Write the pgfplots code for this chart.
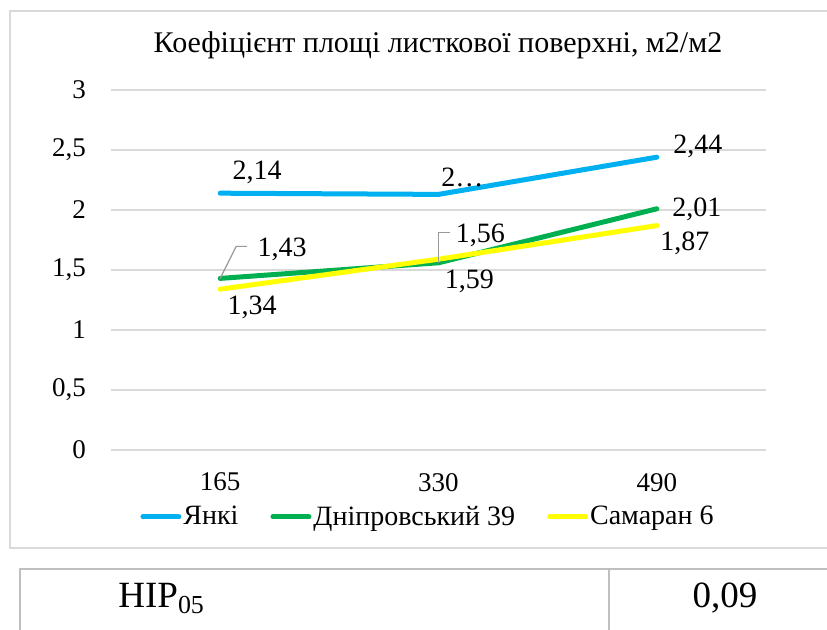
\documentclass[border=0pt]{standalone}
\usepackage{pgfplots}
\pgfplotsset{compat=1.18}
\usepackage{fontspec}
\setmainfont{Liberation Serif}
\definecolor{cblue}{HTML}{00B0F0}
\definecolor{cgreen}{HTML}{00B050}
\definecolor{cyellow}{HTML}{FFFF00}
\definecolor{gridgray}{HTML}{D9D9D9}
\definecolor{tabgray}{HTML}{BFBFBF}
\begin{document}
\begin{tikzpicture}[x=0.5pt,y=0.5pt]
\useasboundingbox (0,0) rectangle (827,630);
% chart frame
\draw[gridgray, line width=1pt] (10,{630-11}) rectangle (845,{630-548});
% title
\node[font=\fontsize{15}{17}\selectfont] at (438,{630-45}) {Коефіцієнт площі листкової поверхні, м2/м2};
\begin{axis}[
  at={(55.5pt,90pt)}, anchor=south west,
  scale only axis, width=327.5pt, height=180pt,
  xmin=-0.5, xmax=2.5, ymin=0, ymax=3,
  xtick={0,1,2}, xticklabels={165,330,490},
  ytick={0,0.5,1,1.5,2,2.5,3},
  yticklabels={0,{0,5},1,{1,5},2,{2,5},3},
  axis line style={draw=none},
  major tick length=0pt,
  ymajorgrids, grid style={gridgray, line width=0.75pt},
  tick label style={font=\fontsize{13.5}{15}\selectfont},
  yticklabel style={xshift=-9pt},
  xticklabel style={yshift=-8pt},
  clip=false,
  legend columns=3,
  legend style={at={(0.484,-0.186)}, anchor=center, draw=none, fill=none,
    font=\fontsize{14}{16}\selectfont,
    nodes={inner xsep=1pt},
    /tikz/every odd column/.append style={column sep=0pt},
    /tikz/every even column/.append style={column sep=15pt}},
  legend image code/.code={\draw[#1, line width=2.5pt, line cap=round] (0pt,0pt) -- (18pt,0pt);},
  legend cell align=left,
]
\addplot[cblue, line width=2.5pt, line cap=round] coordinates {(0,2.14) (1,2.13) (2,2.44)};
\addlegendentry{Янкі}
\addplot[cgreen, line width=2.5pt, line cap=round] coordinates {(0,1.43) (1,1.56) (2,2.01)};
\addlegendentry{Дніпровський 39}
\addplot[cyellow, line width=2.5pt, line cap=round] coordinates {(0,1.34) (1,1.59) (2,1.87)};
\addlegendentry{Самаран 6}
% leader lines
\draw[gray!80, line width=0.6pt] (axis cs:0,1.43) -- ++(8pt,16pt) -- ++(5.5pt,0pt);
\draw[gray!80, line width=0.6pt] (axis cs:1,1.56) -- ++(0pt,15pt) -- ++(6pt,0pt);
% data labels
\begin{scope}[every node/.style={font=\fontsize{14}{16}\selectfont, inner sep=0pt}]
\node[xshift=18.5pt, yshift=10.5pt] at (axis cs:0,2.14) {2,14};
\node[xshift=12pt, yshift=8.5pt] at (axis cs:1,2.13) {2…};
\node[xshift=20.5pt, yshift=5.5pt] at (axis cs:2,2.44) {2,44};
\node[xshift=31pt, yshift=14.5pt] at (axis cs:0,1.43) {1,43};
\node[xshift=21pt, yshift=13.5pt] at (axis cs:1,1.56) {1,56};
\node[xshift=20pt, yshift=-0.5pt] at (axis cs:2,2.01) {2,01};
\node[xshift=16pt, yshift=-9pt] at (axis cs:0,1.34) {1,34};
\node[xshift=15.5pt, yshift=-11pt] at (axis cs:1,1.59) {1,59};
\node[xshift=14pt, yshift=-9pt] at (axis cs:2,1.87) {1,87};
\end{scope}
\end{axis}
% table
\draw[tabgray, line width=0.9pt] (20,0) -- (20,{630-569}) -- (840,{630-569});
\draw[tabgray, line width=0.9pt] (609,0) -- (609,{630-569});
\node[anchor=base west, inner sep=0pt, font=\fontsize{18.5}{20}\selectfont] at (118,{630-608}) {НІР\textsubscript{05}};
\node[anchor=base, inner sep=0pt, font=\fontsize{18.5}{20}\selectfont] at (725,{630-608}) {0,09};
\end{tikzpicture}
\end{document}
